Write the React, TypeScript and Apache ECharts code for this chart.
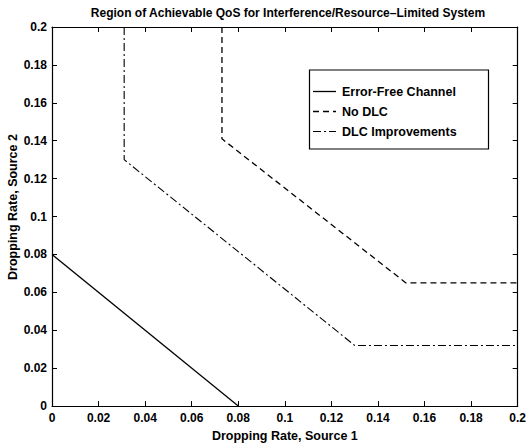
import React, { useEffect, useRef } from "react";
import * as echarts from "echarts";

const xTicks = [0, 0.02, 0.04, 0.06, 0.08, 0.1, 0.12, 0.14, 0.16, 0.18, 0.2];
const yTicks = [0, 0.02, 0.04, 0.06, 0.08, 0.1, 0.12, 0.14, 0.16, 0.18, 0.2];

const seriesNames = ["Error-Free Channel", "No DLC", "DLC Improvements"];
const errorFree: number[][] = [[0, 0.08], [0.08, 0]];
const noDlc: number[][] = [[0.073, 0.2], [0.073, 0.141], [0.152, 0.065], [0.2, 0.065]];
const dlcImprovements: number[][] = [[0.031, 0.2], [0.031, 0.13], [0.13, 0.032], [0.2, 0.032]];

const titleText = "Region of Achievable QoS for Interference/Resource\u2013Limited System";
const xName = "Dropping Rate, Source 1";
const yName = "Dropping Rate, Source 2";

const FONT = "'Liberation Sans', Arial, Helvetica, sans-serif";

export default function App() {
  const ref = useRef<HTMLDivElement>(null);
  useEffect(() => {
    if (!ref.current) return;
    const chart = echarts.init(ref.current, undefined, { renderer: "svg" });
    const fmt = (v: number) => String(+Number(v).toFixed(2));
    const baseAxis = {
      type: "value" as const,
      min: xTicks[0],
      max: xTicks[xTicks.length - 1],
      interval: 0.02,
      splitLine: { show: false },
      axisLine: { show: true, onZero: false, lineStyle: { color: "#000", width: 1.2 } },
      axisTick: { show: true, inside: true, length: 5, lineStyle: { color: "#000", width: 1 } },
    };
    const labelStyle = {
      color: "#000",
      fontFamily: FONT,
      fontWeight: "bold" as const,
      fontSize: 12,
      formatter: fmt,
    };
    const lineBase = { type: "line" as const, symbol: "none", silent: true };
    const dashDot = [8, 3, 2, 3];
    const dash = [6, 4];
    const lx = 313, lx2 = 336, tx = 342;
    const rows = [91.5, 111.5, 131.5];
    const chartOpt = {
      animation: false,
      backgroundColor: "#fff",
      grid: { left: 52, right: 11, top: 27, bottom: 35 },
      xAxis: [
        {
          ...baseAxis,
          position: "bottom",
          axisLabel: { ...labelStyle, margin: 6 },
          name: xName,
          nameLocation: "middle",
          nameGap: 21,
          nameTextStyle: { color: "#000", fontFamily: FONT, fontWeight: "bold", fontSize: 12.5 },
        },
        { ...baseAxis, position: "top", axisLabel: { show: false } },
      ],
      yAxis: [
        {
          ...baseAxis,
          min: yTicks[0],
          max: yTicks[yTicks.length - 1],
          position: "left",
          axisLabel: { ...labelStyle, margin: 5 },
        },
        {
          ...baseAxis,
          min: yTicks[0],
          max: yTicks[yTicks.length - 1],
          position: "right",
          axisLabel: { show: false },
        },
      ],
      series: [
        { ...lineBase, name: seriesNames[0], data: errorFree, lineStyle: { color: "#000", width: 1.3, type: "solid" } },
        { ...lineBase, name: seriesNames[1], data: noDlc, lineStyle: { color: "#000", width: 1.3, type: dash } },
        { ...lineBase, name: seriesNames[2], data: dlcImprovements, lineStyle: { color: "#000", width: 1.1, type: dashDot } },
      ],
      graphic: [
        {
          type: "text",
          x: 288,
          y: 13,
          style: {
            text: titleText,
            fill: "#000",
            font: `bold 12px ${FONT}`,
            align: "center",
            verticalAlign: "middle",
          },
        },
        {
          type: "text",
          x: 13,
          y: 207,
          rotation: Math.PI / 2,
          style: {
            text: yName,
            fill: "#000",
            font: `bold 12.5px ${FONT}`,
            align: "center",
            verticalAlign: "middle",
          },
        },
        {
          type: "rect",
          shape: { x: 309.5, y: 70, width: 179, height: 79 },
          style: { fill: "#fff", stroke: "#000", lineWidth: 1.2 },
          z: 10,
        },
        {
          type: "line",
          shape: { x1: lx, y1: rows[0], x2: lx2, y2: rows[0] },
          style: { stroke: "#000", lineWidth: 1.3 },
          z: 11,
        },
        {
          type: "line",
          shape: { x1: lx, y1: rows[1], x2: lx2, y2: rows[1] },
          style: { stroke: "#000", lineWidth: 1.3, lineDash: dash },
          z: 11,
        },
        {
          type: "line",
          shape: { x1: lx, y1: rows[2], x2: lx2, y2: rows[2] },
          style: { stroke: "#000", lineWidth: 1.1, lineDash: dashDot },
          z: 11,
        },
        ...seriesNames.map((n, i) => ({
          type: "text",
          x: tx,
          y: rows[i],
          z: 11,
          style: {
            text: n,
            fill: "#000",
            font: `bold 12.5px ${FONT}`,
            align: "left",
            verticalAlign: "middle",
          },
        })),
      ],
    };
    chart.setOption(chartOpt as any);
    return () => chart.dispose();
  }, []);
  return (
    <div
      ref={ref}
      style={{ position: "fixed", left: 0, top: 0, width: 529, height: 447 }}
    />
  );
}
